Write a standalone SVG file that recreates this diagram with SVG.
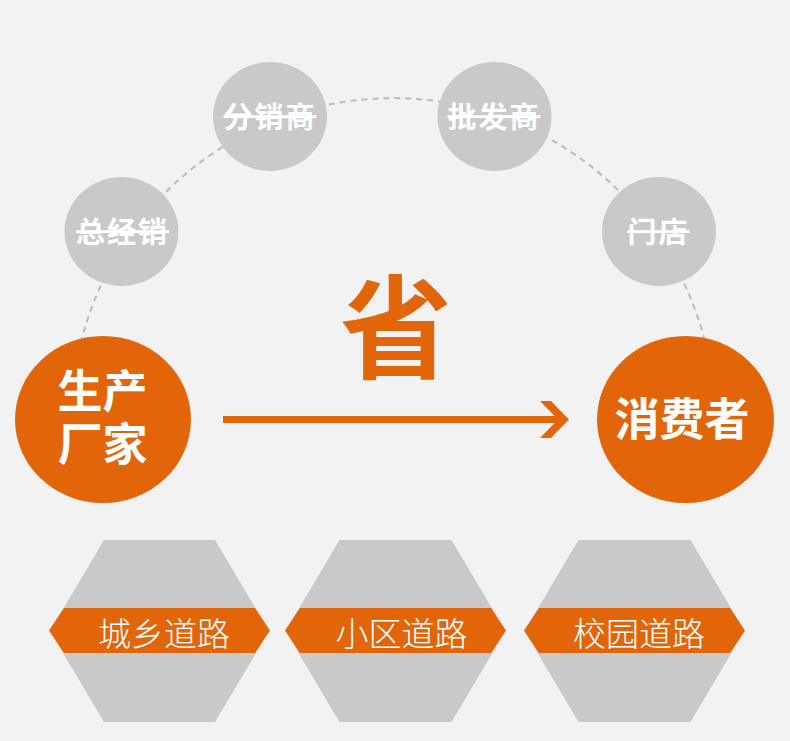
<svg xmlns="http://www.w3.org/2000/svg" width="790" height="741" viewBox="0 0 790 741">
<style>
.bg{fill:#F2F2F2}
.sc{fill:#C9C9C9}
.bc{fill:#E3650A}
.st{font-family:"Noto Sans CJK SC","Noto Sans CJK JP",sans-serif;font-weight:bold;font-size:29px;fill:#FFFFFF;text-anchor:middle;letter-spacing:2px;text-decoration:line-through}
.bt{font-family:"Noto Sans CJK SC","Noto Sans CJK JP",sans-serif;font-weight:bold;font-size:45px;fill:#FFFFFF;text-anchor:middle}
.hx{fill:#C9C9C9}
.band{fill:#E3650A}
.ht{font-family:"Noto Sans CJK SC","Noto Sans CJK JP",sans-serif;font-weight:300;font-size:33px;fill:#FFFFFF;text-anchor:middle}
</style>
<rect class="bg" x="0" y="0" width="790" height="741"/>
<g id="connectors">
<path d="M71.5,419.5 A321.5,321.5 0 0 1 714.5,419.5" fill="none" stroke="#BBBBBB" stroke-width="2" stroke-dasharray="6 5"/>
<line x1="223" y1="419.5" x2="560" y2="419.5" stroke="#E3650A" stroke-width="7"/>
<polygon points="540,401 551,401 569,419.5 551,438 540,438 558,419.5" fill="#E3650A"/>
</g>
<g id="save-label">
<text x="396" y="370" font-family="Noto Sans CJK SC, Noto Sans CJK JP, sans-serif" font-weight="bold" font-size="112" fill="#E3650A" text-anchor="middle">省</text>
</g>
<g id="node-zongjingxiao">
<ellipse class="sc" cx="121.5" cy="231.5" rx="57" ry="54.5"/>
<text class="st" x="122.5" y="243">总经销</text>
</g>
<g id="node-fenxiaoshang">
<ellipse class="sc" cx="270" cy="116.5" rx="57" ry="54.5"/>
<text class="st" x="270" y="128">分销商</text>
</g>
<g id="node-pifashang">
<ellipse class="sc" cx="494.5" cy="116.5" rx="57" ry="54.5"/>
<text class="st" x="494" y="128">批发商</text>
</g>
<g id="node-mendian">
<ellipse class="sc" cx="659" cy="231.5" rx="57" ry="54.5"/>
<text class="st" x="658.5" y="243">门店</text>
</g>
<g id="node-producer">
<ellipse class="bc" cx="103" cy="419.5" rx="88" ry="83.5"/>
<text class="bt" x="102.5" y="408"><tspan x="102.5" y="408">生产</tspan><tspan x="102.5" y="461">厂家</tspan></text>
</g>
<g id="node-consumer">
<ellipse class="bc" cx="685.5" cy="419.5" rx="88.5" ry="83.5"/>
<text class="bt" x="682" y="436">消费者</text>
</g>
<g id="hex-1">
<polygon class="hx" points="104,540 215,540 269,631 215,722 104,722 50,631"/>
<polygon class="band" points="64,608 255,608 270,630.5 255,653 64,653 49,630.5"/>
<text class="ht" x="164" y="646">城乡道路</text>
</g>
<g id="hex-2">
<polygon class="hx" points="339.5,540 451.5,540 505.5,631 451.5,722 339.5,722 285.5,631"/>
<polygon class="band" points="300,608 491,608 506,630.5 491,653 300,653 285,630.5"/>
<text class="ht" x="401.5" y="646">小区道路</text>
</g>
<g id="hex-3">
<polygon class="hx" points="578.5,540 690.5,540 744.5,631 690.5,722 578.5,722 524.5,631"/>
<polygon class="band" points="539,608 730,608 745,630.5 730,653 539,653 524,630.5"/>
<text class="ht" x="639" y="646">校园道路</text>
</g>
</svg>
